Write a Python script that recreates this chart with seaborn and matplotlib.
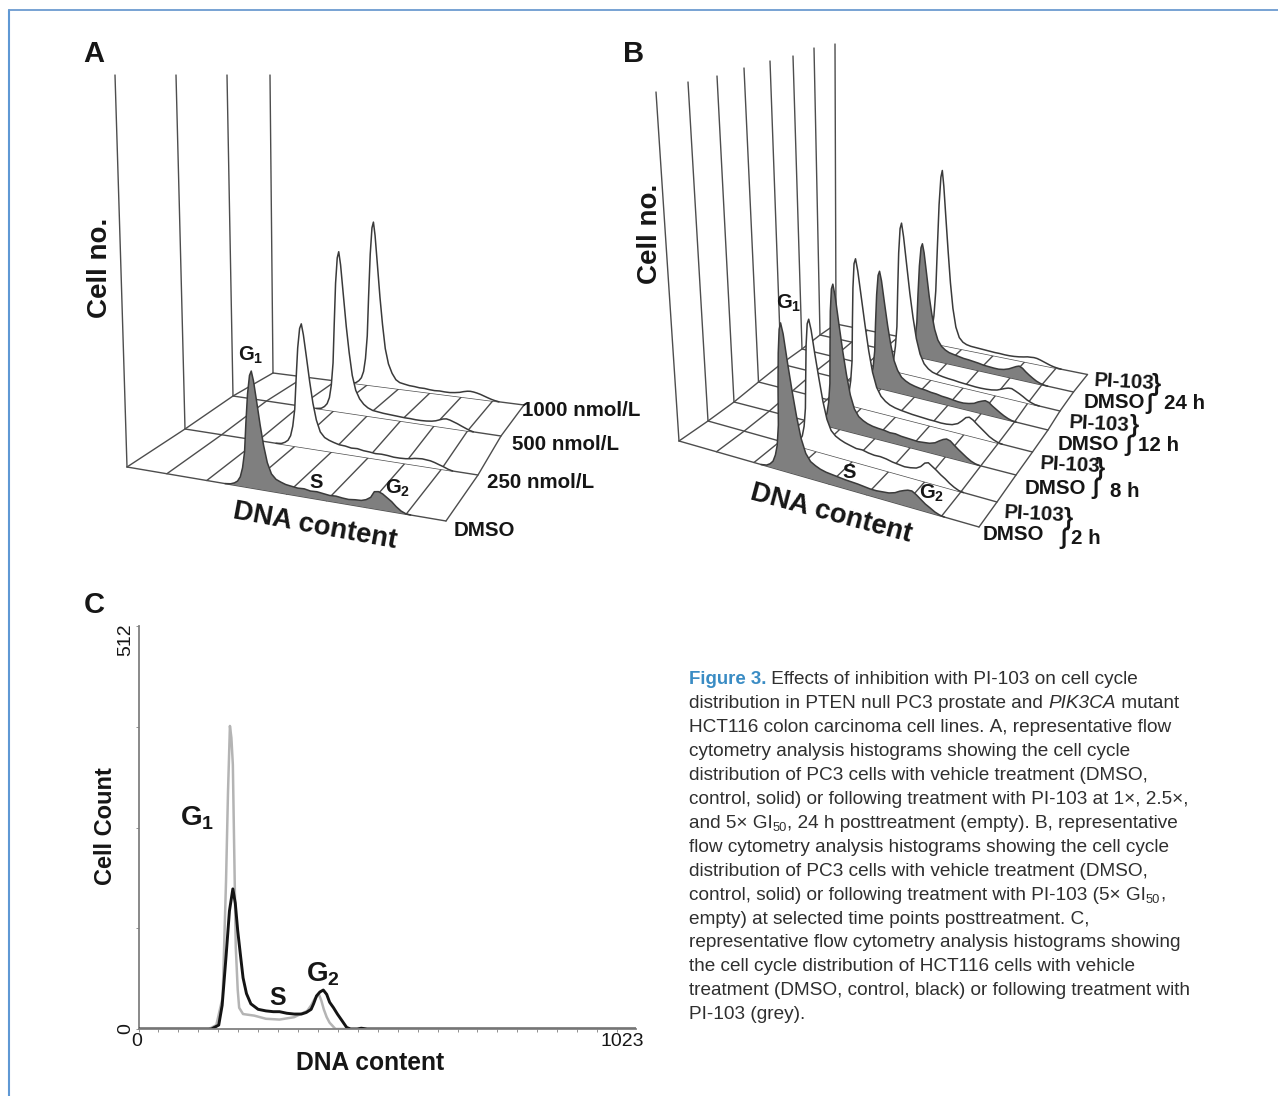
import numpy as np
import pandas as pd
import matplotlib
matplotlib.use("Agg")
import matplotlib.pyplot as plt
import seaborn as sns

sns.set_theme(style="white")
plt.rcParams['font.family'] = ['Liberation Sans', 'DejaVu Sans']
plt.rcParams['mathtext.fontset'] = 'custom'
plt.rcParams['mathtext.rm'] = 'Liberation Sans:bold'
plt.rcParams['mathtext.bf'] = 'Liberation Sans:bold'
plt.rcParams['mathtext.default'] = 'bf'

# ---------- data: shared DNA channel grid, heights in % of the Cell no. axis ----------
DNA = [320,338,350,360,369,377,385,392,400,408,414,420,428,437,446,456,468,482,497,512,530,550,
       570,590,610,630,650,670,690,710,730,750,765,780,792,805,818,832,846,860,875,890,905]

A_DMSO = [0,.2,.6,1.2,2.4,4.8,9,16.5,24,28.8,30,27.6,22.5,16.5,11.4,7.2,4.5,3.3,2.8,2.4,2.2,2.0,
          2.1,1.8,1.9,1.7,1.5,1.6,1.4,1.3,1.5,1.6,2.0,2.8,4.4,4.6,4.2,3.4,2.6,1.5,.6,.1,0]
A_250 = [0,.2,.7,1.4,2.8,5.6,10.5,19,28,33.6,35,32,26,19,13,8.4,5.2,3.8,3.2,2.8,2.4,2.3,
         2.0,2.1,1.8,1.7,1.5,1.6,1.5,1.3,1.3,1.4,1.6,1.9,2.0,2.1,2.0,1.9,1.6,1.2,.8,.3,0]
A_500 = [0,.3,1,2,4,8,15,27,40,48,50,46,37,27,19,12,7.5,5,3.5,2.6,2.0,1.8,
         1.6,1.5,1.4,1.3,1.2,1.2,1.1,1.1,1.2,1.4,1.7,2.2,2.6,2.8,2.6,2.2,1.8,1.3,.8,.3,0]
A_1000 = [0,.3,1.1,2.2,4.4,8.8,16.5,30,44,53,55,50.6,41,30,21,13,8,5,3,2.2,1.9,1.6,
          1.5,1.3,1.3,1.1,1.0,1.1,1.0,1.0,1.2,1.5,1.9,2.2,2.3,2.2,2.0,1.7,1.3,.9,.5,.2,0]
A_series = [A_1000, A_500, A_250, A_DMSO]            # back to front
A_filled = [False, False, False, True]
A_g1 = [416, 415, 417, 410]
A_g2 = [818, 815, 829, 808]
A_labels = ["1000 nmol/L", "500 nmol/L", "250 nmol/L", "DMSO"]

B_DMSO2 = [0,.3,1,2,4,7,13,24,34,41,43,40,32,24,17,11,7,5,4.2,3.6,3.2,3.0,
           2.8,2.6,2.5,2.4,2.2,2.0,2.0,2.2,2.4,3.0,3.8,4.4,4.8,4.9,4.2,3.2,2.2,1.5,.7,.2,0]
B_PI2 = [0,.3,1,2,3.5,6.5,12,21,31,37.5,39,36,29,22,15.5,10.5,7.5,6.2,5.5,5,4.6,4.2,
         4.3,3.9,3.7,3.8,3.6,3.2,3,2.8,3,3.4,4.2,5.6,6,5.2,4.4,3.4,2.6,1.6,.8,.2,0]
B_DMSO8 = [0,.3,1,2,4,7.5,13.5,24.5,36,43,44.6,41,33,24.5,17.5,11.5,7.5,5.5,4.6,4,3.6,3.4,
           3.3,3,3.1,2.8,2.7,2.6,2.5,2.7,2.9,3.5,4.4,5.2,5.6,5.3,4.3,3.3,2.4,1.5,.7,.2,0]
B_PI8 = [0,.3,1,2,4,8,14.5,26,38,46,47.7,44,36,27,19,12.5,8,5.5,4.2,3.4,2.9,2.6,
         2.4,2.2,2.1,2,1.9,1.9,1.8,1.9,2.2,3,4.2,5.6,6,5.4,4.4,3.4,2.4,1.4,.7,.2,0]
B_DMSO12 = [0,.3,.9,1.8,3.5,6.5,12,21.5,31,37.5,39,36,29,21.5,15.5,10.5,7.5,5.5,4.6,4,3.6,3.3,
            3.2,2.9,2.8,2.5,2.4,2.2,2,2,2.3,2.8,3.6,4.2,4.6,4.3,3.4,2.6,1.8,1.1,.5,.1,0]
B_PI12 = [0,.3,1,2.2,4,8.5,15.5,28,41,49.5,51.5,47,38,28,20,13,8,5,3.6,2.8,2.4,2.1,
          1.9,1.8,1.6,1.5,1.4,1.3,1.3,1.4,1.6,2,2.6,3.2,3.6,3.7,3.2,2.6,1.9,1.1,.5,.1,0]
B_DMSO24 = [0,.3,.9,1.8,3.5,6.5,12,22,32,38.5,40,37,30,22,16,11,7.5,5.6,4.6,4,3.7,3.4,
            3.1,3,2.8,2.6,2.3,2.2,2.1,2.1,2.4,3,3.7,4.4,4.8,4.3,3.3,2.4,1.6,.9,.4,.1,0]
B_PI24 = [0,.3,1.2,2.5,5,10,19,34,50,60,62.5,57,46,34,23,14,7.5,4,2.6,2,1.7,1.6,
          1.5,1.4,1.3,1.2,1.2,1.1,1.1,1.2,1.4,1.7,2,2.1,2.2,2.1,1.8,1.4,1,.6,.3,.1,0]
B_series = [B_PI24, B_DMSO24, B_PI12, B_DMSO12, B_PI8, B_DMSO8, B_PI2, B_DMSO2]
B_filled = [False, True, False, True, False, True, False, True]
B_g1 = [435, 423, 413, 394, 388, 386, 384, 380]
B_g2 = [818, 818, 833, 798, 804, 788, 798, 798]

C_black_x = [0,150,165,172,180,187,194,199,204,210,215,222,231,246,262,277,290,305,320,335,345,355,360,
             366,373,380,387,393,401,409,418,428,436,450,458,470,1023]
C_black_y = [0,0,5,30,92,150,178,160,125,92,65,45,32,25,23,22,22,20,19,19,21,25,32,
             42,47,49.5,44,34,27,19,11,2,0,0,1,0,0]
C_grey_x = [0,145,160,173,180,184,188,191,194,197,200,204,207,215,238,262,290,320,347,355,362,371,
            376,381,387,393,405,1023]
C_grey_y = [0,0,5,40,188,300,385,370,336,220,104,50,27,19,17,13,12,15,23,30,38,44,
            36,25,15,8,0,0]
C_yticks = [0, 128, 256, 384, 512]

# ---------- pseudo-3D frame geometry, figure pixels ----------
A_left = [(273,373),(233,396),(185,429),(127,467)]
A_right = [(524,405),(501,436),(478,475),(446,521)]
A_top = [(270,75),(227,75),(176,75),(115,75)]
B_left = [(836,324),(820,335),(802,349),(781,364),(758.5,382),(734,402),(708,421),(679,441)]
B_right = [(1087.5,374.5),(1073.5,392),(1060,411),(1048,430),(1032.5,452),(1016,475),(997,502),(979,527)]
B_top = [(835,44),(814,48),(793,56),(770,61),(744,68),(717,76),(688,82),(656,92)]

fig = plt.figure(figsize=(12.78, 10.96), dpi=100, facecolor='white')
bg = fig.add_axes([0, 0, 1, 1])
bg.set_xlim(0, 1278); bg.set_ylim(1096, 0); bg.axis('off')

LINE = '#4d4d4d'
DARK = '#161616'

def seg(ax, xs, ys, color=LINE, lw=1.0, z=2):
    sns.lineplot(x=np.asarray(xs, float), y=np.asarray(ys, float), ax=ax, color=color, lw=lw, sort=False,
                 estimator=None, errorbar=None, legend=False, zorder=z)

def waterfall(ax, left, right, top, series, filled, g1, g2):
    left, right, top = map(lambda a: np.array(a, float), (left, right, top))
    z = 2
    for l, t in zip(left, top):
        seg(ax, [l[0], t[0]], [l[1], t[1]], z=z)
    for l, r in zip(left, right):
        seg(ax, [l[0], r[0]], [l[1], r[1]], z=z)
    for k in range(9):
        pts = left + (right - left) * k / 8
        seg(ax, pts[:, 0], pts[:, 1], z=z)
    for i, vals in enumerate(series):
        z = 3 + i
        chan = g1[i] + (np.array(DNA, float) - 414) * (g2[i] - g1[i]) / (805 - 414)
        u = chan / 1023
        base = left[i] + u[:, None] * (right[i] - left[i])
        pts = base + (np.array(vals)[:, None] / 100) * (top[i] - left[i])
        poly = np.vstack([pts, base[::-1]])
        ax.fill(poly[:, 0], poly[:, 1], color='#7f7f7f' if filled[i] else 'white', lw=0, zorder=z)
        seg(ax, pts[:, 0], pts[:, 1], color='#3a3a3a', lw=1.1, z=z)

waterfall(bg, A_left, A_right, A_top, A_series, A_filled, A_g1, A_g2)
waterfall(bg, B_left, B_right, B_top, B_series, B_filled, B_g1, B_g2)

def T(x, y, s, size=14.8, weight='bold', rot=0, ha='center', va='center', color=DARK, **kw):
    d = size * 0.12
    th = np.deg2rad(rot)
    return bg.text(x + d * np.sin(th), y + d * np.cos(th), s, fontsize=size, fontweight=weight, rotation=rot,
                   ha=ha, va=va, color=color, rotation_mode='anchor', zorder=30, **kw)

# panel letters
T(94, 51, 'A', 21); T(634, 51, 'B', 21); T(94, 602, 'C', 21)

# panel A text
T(98, 268, 'Cell no.', 20, rot=90)
T(315, 524, 'DNA content', 19.8, rot=-10.5)
T(251, 354, r'$\mathrm{G_1}$', 14.5); T(316, 481, 'S', 14.5); T(398, 487, r'$\mathrm{G_2}$', 14.5)
for (x, y), s in zip([(522,409),(512,443),(487,481),(454,529)], A_labels):
    T(x, y, s, ha='left')

# panel B text
T(648, 234, 'Cell no.', 20, rot=90)
T(832, 511, 'DNA content', 19.8, rot=-15)
T(789, 302, r'$\mathrm{G_1}$', 14.5); T(849, 471, 'S', 14.5); T(932, 492, r'$\mathrm{G_2}$', 14.5)
for x, y in [(1124,380),(1099,422),(1070,463),(1034,512)]:
    T(x, y, 'PI-103', rot=-3)
for x, y in [(1114,401),(1088,443),(1055,487),(1013,533)]:
    T(x, y, 'DMSO')
for (x, y), s in zip([(1185,402),(1158,444),(1125,490),(1086,537)], ['24 h','12 h','8 h','2 h']):
    T(x, y, s)
for x, y in [(1156,382),(1134,423),(1100,466),(1068,516)]:
    T(x, y, '}', 17)
for x, y in [(1149,402),(1128,444),(1095,487),(1063,537)]:
    T(x, y, '\u222b', 16)

# panel C
axC = fig.add_axes([138.5/1278, (1096-1029)/1096, (636-138.5)/1278, (1029-626)/1096], facecolor='none')
dfC = pd.concat([pd.DataFrame({'channel': C_grey_x, 'count': C_grey_y, 'treatment': 'PI-103'}),
                 pd.DataFrame({'channel': C_black_x, 'count': C_black_y, 'treatment': 'DMSO'})])
sns.lineplot(data=dfC[dfC.treatment == 'PI-103'], x='channel', y='count', ax=axC, color='#b4b4b4', lw=1.8,
             sort=False, estimator=None, errorbar=None, legend=False, zorder=3)
sns.lineplot(data=dfC[dfC.treatment == 'DMSO'], x='channel', y='count', ax=axC, color='#141414', lw=2.1,
             sort=False, estimator=None, errorbar=None, legend=False, zorder=4)
axC.set_xlim(0, 1023); axC.set_ylim(0, 512)
axC.set_xlabel(''); axC.set_ylabel('')
for sp in ['top', 'right']:
    axC.spines[sp].set_visible(False)
for sp in ['left', 'bottom']:
    axC.spines[sp].set_color('#808080'); axC.spines[sp].set_linewidth(1.3)
axC.spines['bottom'].set_zorder(5)
axC.set_yticks(C_yticks); axC.set_xticks(np.arange(0, 1024, 41))
axC.tick_params(axis='both', length=2.0, width=0.7, color='#909090', labelleft=False, labelbottom=False,
                left=True, bottom=True)
T(124, 640, '512', 14, weight='normal', rot=90)
T(124, 1029, '0', 14, weight='normal', rot=90)
T(137, 1040, '0', 14, weight='normal')
T(622, 1040, '1023', 14, weight='normal')
T(103, 826, 'Cell Count', 17, rot=90)
T(370, 1061, 'DNA content', 17.7)
T(197, 816, r'$\mathrm{G_1}$', 20); T(278, 996, 'S', 18); T(323, 972, r'$\mathrm{G_2}$', 20)

# frame
bg.plot([9, 9], [1096, 10], color='#5f98d4', lw=1.5, zorder=1)
bg.plot([9, 1278], [10, 10], color='#6c9bd0', lw=1.3, zorder=1)

# caption
CAP = '#2f2f2f'
BLUE = '#3a8cc4'
SIZE = 13.7
caption = [
    [("Figure 3.", 'b'), (" Effects of inhibition with PI-103 on cell cycle", 'r')],
    [("distribution in PTEN null PC3 prostate and ", 'r'), ("PIK3CA", 'i'), (" mutant", 'r')],
    [("HCT116 colon carcinoma cell lines. A, representative flow", 'r')],
    [("cytometry analysis histograms showing the cell cycle", 'r')],
    [("distribution of PC3 cells with vehicle treatment (DMSO,", 'r')],
    [("control, solid) or following treatment with PI-103 at 1\u00d7, 2.5\u00d7,", 'r')],
    [("and 5\u00d7 GI", 'r'), ("50", 's'), (", 24 h posttreatment (empty). B, representative", 'r')],
    [("flow cytometry analysis histograms showing the cell cycle", 'r')],
    [("distribution of PC3 cells with vehicle treatment (DMSO,", 'r')],
    [("control, solid) or following treatment with PI-103 (5\u00d7 GI", 'r'), ("50", 's'), (",", 'r')],
    [("empty) at selected time points posttreatment. C,", 'r')],
    [("representative flow cytometry analysis histograms showing", 'r')],
    [("the cell cycle distribution of HCT116 cells with vehicle", 'r')],
    [("treatment (DMSO, control, black) or following treatment with", 'r')],
    [("PI-103 (grey).", 'r')],
]
fig.canvas.draw()
rend = fig.canvas.get_renderer()
for n, runs in enumerate(caption):
    x = 689.0
    y = 684.5 + n * 23.9
    for s, kind in runs:
        kw = dict(fontsize=SIZE, color=CAP, ha='left', va='baseline', zorder=30)
        dy = 0
        if kind == 'b':
            kw.update(fontweight='bold', color=BLUE, fontsize=SIZE * 0.98)
        elif kind == 'i':
            kw.update(fontstyle='italic')
        elif kind == 's':
            kw.update(fontsize=SIZE * 0.68)
            dy = 3
        t = bg.text(x, y + dy, s.replace(' ', '\u00a0'), **kw)
        x = bg.transData.inverted().transform(t.get_window_extent(rend).get_points())[1, 0]

fig.savefig('out.png', dpi=100)
